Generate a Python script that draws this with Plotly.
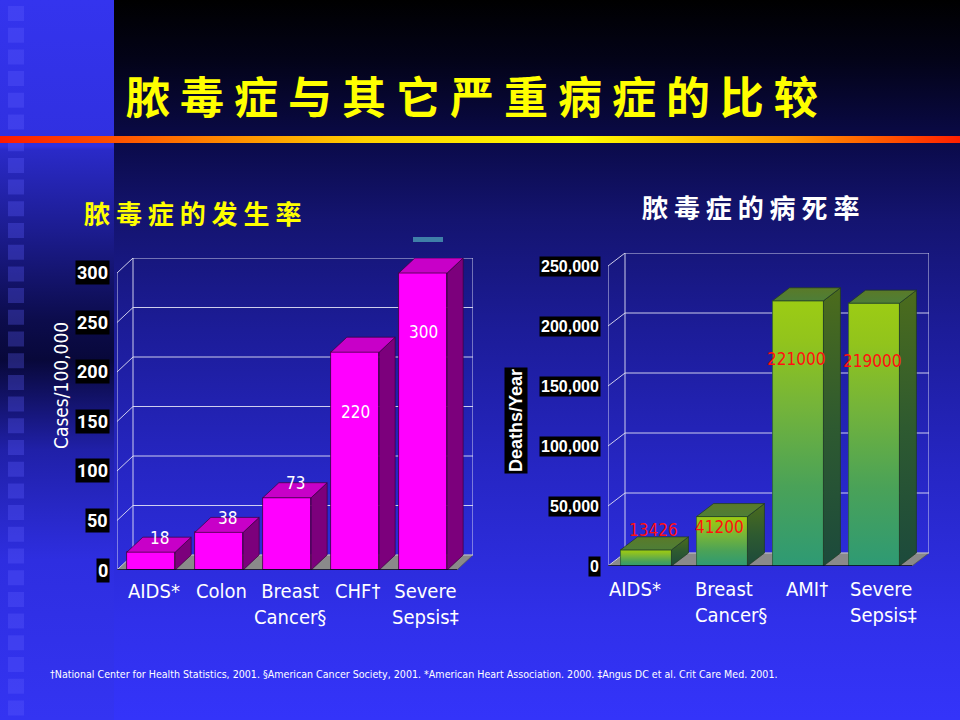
import plotly.graph_objects as go

# ---------------- data ----------------
main_title = "脓毒症与其它严重病症的比较"
left_title = "脓毒症的发生率"
right_title = "脓毒症的病死率"

inc_categories = ["AIDS*", "Colon", "Breast<br>Cancer§", "CHF†", "Severe<br>Sepsis‡"]
inc_values = [18, 38, 73, 220, 300]
inc_ticks = [0, 50, 100, 150, 200, 250, 300]
inc_tick_labels = ["0", "50", "100", "150", "200", "250", "300"]
inc_axis_title = "Cases/100,000"

mort_categories = ["AIDS*", "Breast<br>Cancer§", "AMI†", "Severe<br>Sepsis‡"]
mort_values = [13426, 41200, 221000, 219000]
mort_ticks = [0, 50000, 100000, 150000, 200000, 250000]
mort_tick_labels = ["0", "50,000", "100,000", "150,000", "200,000", "250,000"]
mort_axis_title = "Deaths/Year"

footnote = ("†National Center for Health Statistics, 2001. §American Cancer Society, 2001. "
            "*American Heart Association. 2000. ‡Angus DC et al. Crit Care Med. 2001.")

# ---------------- style ----------------
W, H = 960, 720
NARROW = "DejaVu Sans Condensed, Roboto, sans-serif"
TICKF = "Roboto, DejaVu Sans Condensed, sans-serif"
SANS = "Liberation Sans, Arial, sans-serif"
CJK = "Noto Sans CJK SC, sans-serif"
GRID = "rgba(225,225,245,0.9)"

fig = go.Figure()
shapes = []
annotations = []


def up(ypx):
    return H - ypx


def rect(x0, y0px, x1, y1px):
    return [x0, x1, x1, x0, x0], [up(y0px), up(y0px), up(y1px), up(y1px), up(y0px)]


def note(x, y, text, font, xref="paper", yref="paper", **kw):
    d = dict(x=x, y=y, xref=xref, yref=yref, text=text, showarrow=False, font=font,
             xanchor="center", yanchor="middle")
    d.update(kw)
    annotations.append(d)


# ---------------- background (axis x / y, full paper) ----------------
def bg_poly(xs, ys, color=None, grad=None):
    kw = dict(x=xs, y=ys, mode="lines", fill="toself", line=dict(width=0),
              hoverinfo="skip", xaxis="x", yaxis="y", showlegend=False)
    if grad is not None:
        kw["fillgradient"] = grad
        kw["fillcolor"] = grad["colorscale"][0][1]
    else:
        kw["fillcolor"] = color
    fig.add_trace(go.Scatter(**kw))


def vscale(stops):
    return sorted([((H - y) / H, c) for y, c in stops])


main_bg = vscale([(720, "#3434fa"), (620, "#3030ea"), (470, "#2626c4"), (330, "#1c1c98"),
                  (220, "#141470"), (140, "#0a0a48"), (60, "#030318"), (0, "#000000")])
xs, ys = rect(114, 0, 960, 720)
bg_poly(xs, ys, grad=dict(type="vertical", colorscale=main_bg, start=0, stop=H))

strip_bg = vscale([(720, "#3434f2"), (560, "#2e2ee0"), (450, "#2020a8"), (360, "#08083a"),
                   (320, "#0c0c4c"), (230, "#1c1c90"), (150, "#2a2ac8"), (146, "#3030e0"),
                   (0, "#3434ee")])
xs, ys = rect(0, 0, 114, 720)
bg_poly(xs, ys, grad=dict(type="vertical", colorscale=strip_bg, start=0, stop=H))

# small squares on the left strip
sq_x, sq_y = [], []
for k in range(33):
    t = 6 + k * 21.7
    a, b = rect(8, t, 24, t + 15)
    sq_x += a + [None]
    sq_y += b + [None]
bg_poly(sq_x, sq_y, color="rgba(95,95,255,0.30)")

# red-yellow rule
xs, ys = rect(0, 136, 960, 143)
bg_poly(xs, ys, grad=dict(type="horizontal",
                          colorscale=[[0, "#ff1a00"], [0.15, "#ff6000"], [0.38, "#ffd000"],
                                      [0.6, "#ffff00"], [0.82, "#ff9a00"], [1, "#ff2000"]],
                          start=0, stop=W))

# small teal mark above the left chart
xs, ys = rect(413, 237, 443, 242)
bg_poly(xs, ys, color="#3f7fa8")


# ---------------- 3-D bar charts ----------------
def geom(n, x_left_px, unit_px, depth_x_px, y0_px, top_val, top_px, depth_y_px):
    ppv = (y0_px - top_px) / top_val
    dx = depth_x_px / unit_px
    dy = depth_y_px / ppv
    return dict(n=n, dx=dx, dy=dy, top=top_val, x_left_px=x_left_px,
                xr=[-0.5, n - 0.5 + dx], yr=[0, top_val + dy],
                xd=[x_left_px / W, (x_left_px + (n + dx) * unit_px) / W],
                yd=[(H - y0_px) / H, (H - (top_px - depth_y_px)) / H],
                unit_px=unit_px, ppv=ppv)


def frame(xa, ya, g, ticks):
    n, dx, dy, top = g["n"], g["dx"], g["dy"], g["top"]
    x0, x1 = -0.5, n - 0.5
    shapes.append(dict(type="path", xref=xa, yref=ya, layer="below",
                       path=f"M {x0},0 L {x1},0 L {x1+dx},{dy} L {x0+dx},{dy} Z",
                       fillcolor="#8a8a8a", line=dict(color="#555555", width=0.8)))
    for t in ticks:
        shapes.append(dict(type="line", xref=xa, yref=ya, layer="below",
                           x0=x0 + dx, y0=t + dy, x1=x1 + dx, y1=t + dy,
                           line=dict(color=GRID, width=1)))
        shapes.append(dict(type="line", xref=xa, yref=ya, layer="below",
                           x0=x0, y0=t, x1=x0 + dx, y1=t + dy,
                           line=dict(color=GRID, width=1)))
    for xv in (x0 + dx, x1 + dx):
        shapes.append(dict(type="line", xref=xa, yref=ya, layer="below",
                           x0=xv, y0=dy, x1=xv, y1=top + dy,
                           line=dict(color=GRID, width=1)))
    shapes.append(dict(type="line", xref=xa, yref=ya, layer="below",
                       x0=x0, y0=0, x1=x0, y1=top, line=dict(color=GRID, width=1)))
    shapes.append(dict(type="line", xref=xa, yref=ya, layer="above",
                       x0=x0, y0=0, x1=x1, y1=0, line=dict(color="#000022", width=1.5)))


def faces(values, w, g, xa, ya, top_color, side_color, edge, side_grad=None, top_grad=None):
    dx, dy = g["dx"], g["dy"]
    for i, v in enumerate(values):
        l, r = i - w / 2, i + w / 2
        kw = dict(x=[r, r + dx, r + dx, r, r], y=[0, dy, v + dy, v, 0], mode="lines",
                  fill="toself", line=dict(color=edge, width=0.7), hoverinfo="skip",
                  xaxis=xa, yaxis=ya, showlegend=False, fillcolor=side_color)
        if side_grad:
            kw["fillgradient"] = dict(type="vertical", colorscale=side_grad, start=0, stop=v + dy)
        fig.add_trace(go.Scatter(**kw))
        kw = dict(x=[l, r, r + dx, l + dx, l], y=[v, v, v + dy, v + dy, v], mode="lines",
                  fill="toself", line=dict(color=edge, width=0.7), hoverinfo="skip",
                  xaxis=xa, yaxis=ya, showlegend=False, fillcolor=top_color)
        if top_grad:
            kw["fillgradient"] = dict(type="vertical", colorscale=top_grad, start=v, stop=v + dy)
        fig.add_trace(go.Scatter(**kw))


def tick_boxes(g, ya, ticks, labels, font, gap_px=7):
    for t, lab in zip(ticks, labels):
        note((g["x_left_px"] - gap_px) / W, t, lab, font, yref=ya, xanchor="right",
             bgcolor="black", borderpad=1)


# ----- left chart: incidence -----
gL = geom(len(inc_values), 117, 68, 16, 570, 300, 273, 15)
wL = 0.71
frame("x2", "y2", gL, inc_ticks)
fig.add_trace(go.Bar(x=list(range(len(inc_values))), y=inc_values, width=wL,
                     marker=dict(color="#ff00ff", line=dict(color="#3a003a", width=0.8)),
                     xaxis="x2", yaxis="y2", hoverinfo="skip", showlegend=False))
faces(inc_values, wL, gL, "x2", "y2", "#c800c8", "#7c007c", "#3a003a")

for i, v in enumerate(inc_values):
    if v < 100:
        lx, ly = i + gL["dx"] * 0.55, v + gL["dy"] * 0.95
    else:
        lx, ly = i, v - 60
    note(lx, ly, str(v), dict(family=NARROW, size=17, color="white"), xref="x2", yref="y2")
tick_boxes(gL, "y2", inc_ticks, inc_tick_labels,
           dict(family=TICKF, size=18, color="white", weight="bold"))
for i, c in enumerate(inc_categories):
    note(i + 0.04, up(577) / H, c, dict(family=NARROW, size=20, color="white"),
         xref="x2", yanchor="top", align="center")
note(61 / W, up(386) / H, inc_axis_title, dict(family=NARROW, size=19, color="white"),
     textangle=-90)

# ----- right chart: mortality -----
gR = geom(len(mort_values), 608, 76, 17, 566, 250000, 266, 13)
wR = 0.67
frame("x3", "y3", gR, mort_ticks)
fig.add_trace(go.Bar(x=list(range(len(mort_values))), y=mort_values, width=wR,
                     marker=dict(color="#66aa44", line=dict(color="#1e3e22", width=0.6)),
                     xaxis="x3", yaxis="y3", hoverinfo="skip", showlegend=False))
for i, v in enumerate(mort_values):
    l, r = i - wR / 2, i + wR / 2
    fig.add_trace(go.Scatter(
        x=[l, r, r, l, l], y=[0, 0, v, v, 0], mode="lines", fill="toself",
        line=dict(color="#2a5a3a", width=0.6), hoverinfo="skip", showlegend=False,
        xaxis="x3", yaxis="y3", fillcolor="#66aa44",
        fillgradient=dict(type="vertical", start=0, stop=v,
                          colorscale=[[0, "#2e9a74"], [0.3, "#4aa258"], [0.6, "#74b43a"],
                                      [0.85, "#92c41c"], [1, "#9ccc14"]])))
faces(mort_values, wR, gR, "x3", "y3", "#4f7a32", "#2f5a2e", "#1f3a20",
      side_grad=[[0, "#1c4a3c"], [0.5, "#2e5a30"], [1, "#4c6c1c"]],
      top_grad=[[0, "#4e7e38"], [1, "#5a7a28"]])

for i, v in enumerate(mort_values):
    if v < 20000:
        lx, ly = i + 0.1, v + 16500
    else:
        lx, ly = i - 0.03, v * 0.78
    note(lx, ly, str(v), dict(family=NARROW, size=17, color="#ff1010"), xref="x3", yref="y3")
tick_boxes(gR, "y3", mort_ticks, mort_tick_labels,
           dict(family=SANS, size=16, color="white", weight="bold"))
for i, c in enumerate(mort_categories):
    note(i + (0.12 if i else -0.15), up(575) / H, c, dict(family=NARROW, size=20, color="white"),
         xref="x3", yanchor="top", align="left")
note(516 / W, up(421) / H, mort_axis_title,
     dict(family=SANS, size=18, color="white", weight="bold"),
     textangle=-90, bgcolor="black", borderpad=1)

# ----- titles & footnote -----
note(472 / W, up(95) / H, " ".join(main_title),
     dict(family=CJK, size=44, color="#ffff00", weight="bold"))
note(192 / W, up(213) / H, " ".join(left_title),
     dict(family=CJK, size=26, color="#ffff00", weight="bold"))
note(750 / W, up(207) / H, " ".join(right_title),
     dict(family=CJK, size=26, color="white", weight="bold"))
note(48 / W, up(674) / H, footnote, dict(family=NARROW, size=10.6, color="white"),
     xanchor="left")

hidden = dict(showgrid=False, zeroline=False, showticklabels=False, showline=False,
              ticks="", fixedrange=True)
fig.update_layout(
    width=W, height=H, autosize=False,
    margin=dict(l=0, r=0, t=0, b=0, pad=0),
    paper_bgcolor="#000020", plot_bgcolor="rgba(0,0,0,0)",
    showlegend=False, hovermode=False, bargap=0,
    xaxis=dict(domain=[0, 1], range=[0, W], **hidden),
    yaxis=dict(domain=[0, 1], range=[0, H], **hidden),
    xaxis2=dict(domain=gL["xd"], range=gL["xr"], anchor="y2", **hidden),
    yaxis2=dict(domain=gL["yd"], range=gL["yr"], anchor="x2", **hidden),
    xaxis3=dict(domain=gR["xd"], range=gR["xr"], anchor="y3", **hidden),
    yaxis3=dict(domain=gR["yd"], range=gR["yr"], anchor="x3", **hidden),
    shapes=shapes, annotations=annotations,
)

fig.write_html("out.html", config={"displayModeBar": False},
               post_script="document.body.style.margin='0';document.body.style.overflow='hidden';")
